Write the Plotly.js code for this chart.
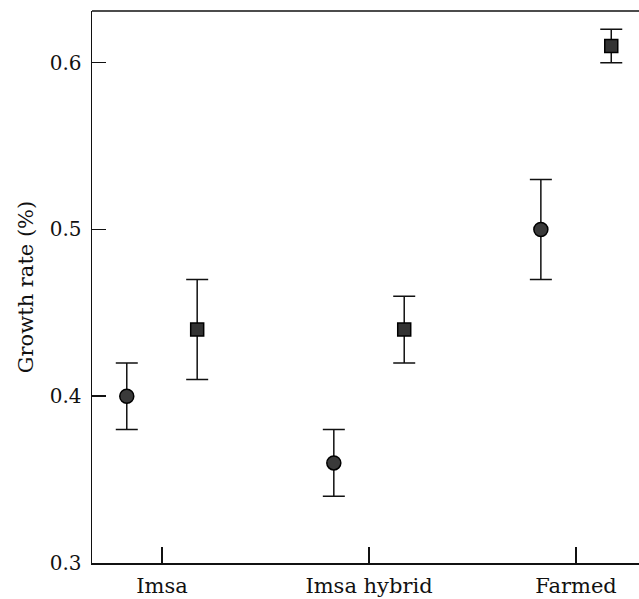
<!DOCTYPE html>
<html>
<head>
<meta charset="utf-8">
<script src="https://cdn.plot.ly/plotly-3.0.1.min.js"></script>
<style>html,body{margin:0;padding:0;background:#fff;}#chart{width:639px;height:599px;}</style>
</head>
<body>
<div id="chart"></div>
<script>
const categories = ["Imsa", "Imsa hybrid", "Farmed"];
const catIndex = [0, 1, 2];
const circleValues = [0.40, 0.36, 0.50];
const circleErrors = [0.02, 0.02, 0.03];
const squareValues = [0.44, 0.44, 0.61];
const squareErrors = [0.03, 0.02, 0.01];
const yTickVals = [0.3, 0.4, 0.5, 0.6];
const yTickText = ["0.3", "0.4", "0.5", "0.6"];

const offset = 0.17;
const errStyle = (arr) => ({type: 'data', array: arr, visible: true, color: '#111', thickness: 1.5, width: 11});

const traces = [
  {
    x: catIndex.map(i => i - offset), y: circleValues, type: 'scatter', mode: 'markers',
    error_y: errStyle(circleErrors),
    marker: {symbol: 'circle', size: 14, color: '#3a3a3a', line: {color: '#000', width: 1.5}},
    showlegend: false, hoverinfo: 'skip'
  },
  {
    x: catIndex.map(i => i + offset), y: squareValues, type: 'scatter', mode: 'markers',
    error_y: errStyle(squareErrors),
    marker: {symbol: 'square', size: 13, color: '#333', line: {color: '#000', width: 1.5}},
    showlegend: false, hoverinfo: 'skip'
  }
];

const font = {family: 'DejaVu Serif, serif', size: 20, color: '#111'};

const layout = {
  width: 639, height: 599,
  margin: {l: 92, r: 0, t: 11, b: 36, pad: 0},
  paper_bgcolor: '#fff', plot_bgcolor: '#fff',
  font: font,
  showlegend: false,
  xaxis: {
    range: [-0.338, 2.304],
    tickmode: 'array', tickvals: catIndex, ticktext: categories,
    ticks: 'inside', ticklen: 16, tickwidth: 1.5, tickcolor: '#111',
    showline: true, linecolor: '#111', linewidth: 1.5,
    showgrid: false, zeroline: false,
    ticklabelstandoff: 3,
    tickfont: {family: 'DejaVu Serif, serif', size: 21, color: '#111'}
  },
  yaxis: {
    range: [0.3, 0.631],
    tickmode: 'array', tickvals: yTickVals, ticktext: yTickText,
    ticks: 'inside', ticklen: 14, tickwidth: 1.5, tickcolor: '#111',
    showline: true, linecolor: '#111', linewidth: 1.5,
    showgrid: false, zeroline: false,
    ticklabelstandoff: 5,
    tickfont: font,
    title: {text: 'Growth rate (%)', font: {family: 'DejaVu Serif, serif', size: 21, color: '#111'}, standoff: 10}
  },
  shapes: [
    {type: 'line', xref: 'paper', yref: 'paper', x0: 0, x1: 1, y0: 1, y1: 1, line: {color: '#111', width: 1.5}}
  ]
};

Plotly.newPlot('chart', traces, layout, {displayModeBar: false, staticPlot: true});
</script>
</body>
</html>
